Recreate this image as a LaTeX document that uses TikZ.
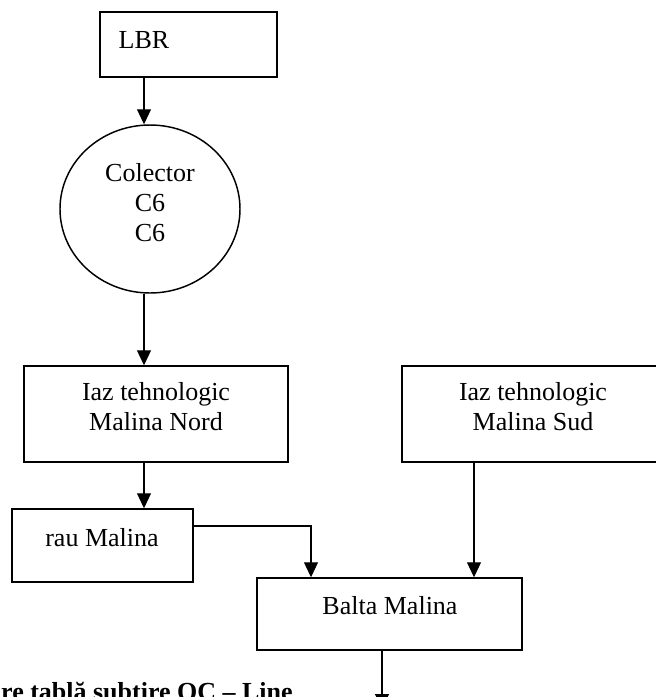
\documentclass[tikz,border=0pt]{standalone}
\usepackage{fontspec}
\setmainfont{Liberation Serif}
\usetikzlibrary{arrows.meta,fit,shapes.geometric}
\begin{document}
\begin{tikzpicture}[x=0.75pt,y=-0.75pt,
  box/.style={draw, line width=1.1pt, rectangle, inner sep=0pt},
  txt/.style={font=\fontsize{19.5pt}{22.5pt}\selectfont, align=center, inner sep=0pt},
  arr/.style={-{Triangle[length=11.25pt,width=10.5pt]}, line width=0.8pt}]
\useasboundingbox (0,0) rectangle (656,697);
\clip (0,0) rectangle (656,697);

% boxes
\node[box, fit={(100,12) (277,77)}] (lbr) {};
\node[draw, ellipse, line width=1.1pt, minimum width=135pt, minimum height=126pt, inner sep=0pt] (colector) at (150,209) {};
\node[box, fit={(24,366) (288,462)}] (nord) {};
\node[box, fit={(402,366) (664,462)}] (sud) {};
\node[box, fit={(12,509) (193,582)}] (rau) {};
\node[box, fit={(257,578) (522,650)}] (balta) {};

% labels
\node[txt] (tlbr) at (144,40) {LBR};
\node[txt] (tcol) at (150,203) {Colector\\C6\\C6};
\node[txt] (tnord) at (156,407) {Iaz tehnologic\\Malina Nord};
\node[txt] (tsud) at (533,407) {Iaz tehnologic\\Malina Sud};
\node[txt] (trau) at (102,538) {rau Malina};
\node[txt] (tbalta) at (390,606) {Balta Malina};
\node[txt, font=\fontsize{19.5pt}{22.5pt}\selectfont\bfseries, anchor=base east] (note) at (293,700) {re tablă subtire OC – Line};

% connectors
\coordinate (col) at (144,0);
\coordinate (rj) at (311,526);
\coordinate (sj) at (474,0);
\coordinate (out) at (382,709);
\draw[arr] (lbr.south -| col) -- (col |- colector.north);
\draw[arr] (colector.south -| col) -- (col |- nord.north);
\draw[arr] (nord.south -| col) -- (col |- rau.north);
\draw[arr] (rau.east |- rj) -- (rj) -- (rj |- balta.north);
\draw[arr] (sud.south -| sj) -- (sj |- balta.north);
\draw[arr] (balta.south -| out) -- (out);
\end{tikzpicture}
\end{document}
